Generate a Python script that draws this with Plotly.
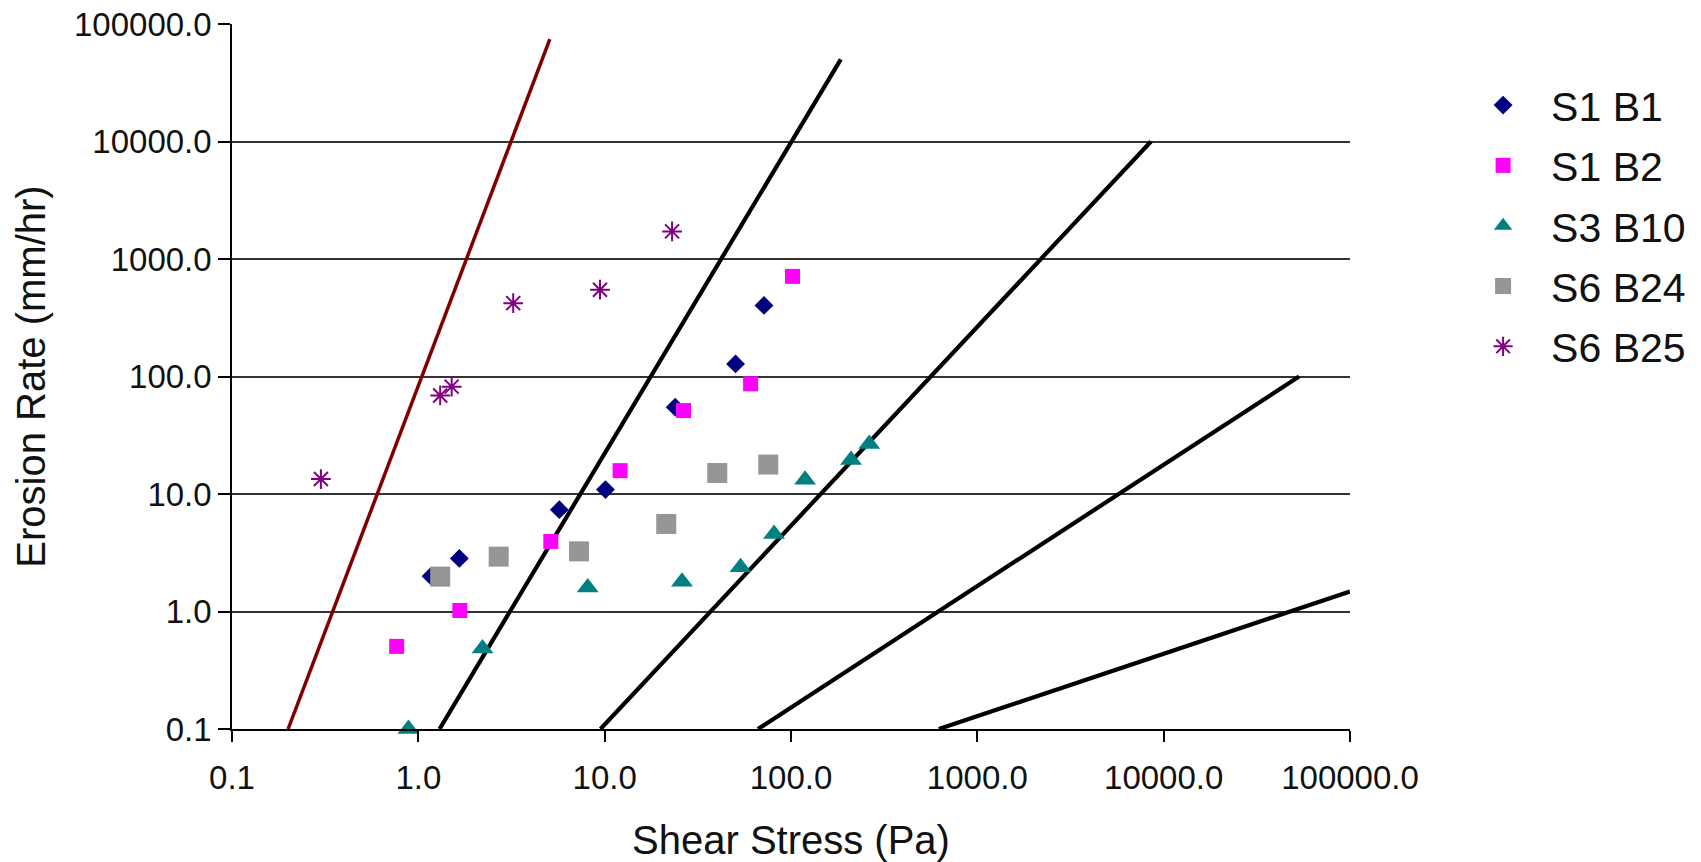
import plotly.graph_objects as go

# ---- data ----
s1b1_x = [1.17, 1.66, 5.71, 10.1, 23.9, 50.4, 71.6]
s1b1_y = [2.0, 2.83, 7.36, 10.9, 54.8, 128, 403]

s1b2_x = [0.765, 1.67, 5.14, 12.1, 26.5, 60.7, 101.9]
s1b2_y = [0.505, 1.02, 3.95, 15.8, 51.3, 86.7, 711]

s3b10_x = [0.885, 2.21, 8.11, 26.0, 53.6, 81.1, 119, 210, 263]
s3b10_y = [0.1, 0.485, 1.60, 1.79, 2.38, 4.57, 13.2, 19.5, 26.7]

s6b24_x = [1.31, 2.70, 7.28, 21.4, 40.2, 75.5]
s6b24_y = [1.98, 2.93, 3.25, 5.56, 15.1, 17.8]

s6b25_x = [0.30, 1.31, 1.51, 3.23, 9.44, 23.0]
s6b25_y = [13.4, 69, 82, 421, 548, 1718]

# boundary lines (end points)
red_x = [0.2, 5.08]
red_y = [0.1, 74300]
black_lines_x = [[1.30, 185], [9.5, 8550], [66.5, 53300], [622, 100000]]
black_lines_y = [[0.1, 50000], [0.1, 10000], [0.1, 100], [0.1, 1.48]]

tick_vals = [0.1, 1, 10, 100, 1000, 10000, 100000]
tick_text = ["0.1", "1.0", "10.0", "100.0", "1000.0", "10000.0", "100000.0"]

FONT = "Liberation Sans, Arial, sans-serif"
TXT = "#111111"

fig = go.Figure()

fig.add_trace(go.Scatter(x=red_x, y=red_y, mode="lines",
                         line=dict(color="#800000", width=3.5),
                         showlegend=False, hoverinfo="skip"))
for bx, by in zip(black_lines_x, black_lines_y):
    fig.add_trace(go.Scatter(x=bx, y=by, mode="lines",
                             line=dict(color="#000000", width=4.2),
                             showlegend=False, hoverinfo="skip"))

series = [
    ("S1 B1", s1b1_x, s1b1_y, dict(symbol="diamond", size=14.5, color="#000080")),
    ("S1 B2", s1b2_x, s1b2_y, dict(symbol="square", size=15, color="#FF00FF")),
    ("S3 B10", s3b10_x, s3b10_y, dict(symbol="triangle-up", size=19, color="#008080")),
    ("S6 B24", s6b24_x, s6b24_y, dict(symbol="square", size=20, color="#969696")),
    ("S6 B25", s6b25_x, s6b25_y, dict(symbol="asterisk-open", size=16.5, color="#800080",
                                      line=dict(color="#800080", width=2))),
]
for i, (name, xs, ys, mk) in enumerate(series):
    if "line" not in mk:
        mk = dict(mk, line=dict(width=0))
    fig.add_trace(go.Scatter(x=xs, y=ys, mode="markers", name=name,
                             marker=mk, cliponaxis=False,
                             legendgroup="g%d" % i))

fig.update_layout(
    width=1701, height=862,
    margin=dict(l=232, r=351, t=24, b=133, autoexpand=False),
    paper_bgcolor="white", plot_bgcolor="white",
    font=dict(family=FONT, color=TXT, size=33),
    showlegend=True,
    legend=dict(x=1.094, y=0.932, xanchor="left", yanchor="top",
                font=dict(size=41, family=FONT, color=TXT),
                traceorder="grouped", tracegroupgap=4,
                itemwidth=86, bgcolor="rgba(0,0,0,0)"),
)

fig.update_xaxes(type="log", range=[-1, 5], automargin=False,
                 tickvals=tick_vals, ticktext=tick_text,
                 showgrid=False, zeroline=False,
                 showline=True, linecolor="#000000", linewidth=1.5,
                 ticks="outside", ticklen=11, tickwidth=1.5, tickcolor="#000000",
                 ticklabelstandoff=8,
                 tickfont=dict(size=33, family=FONT, color=TXT),
                 title=dict(text="Shear Stress (Pa)", standoff=37,
                            font=dict(size=40, family=FONT, color=TXT)))
fig.update_yaxes(type="log", range=[-1, 5], automargin=False,
                 tickvals=tick_vals, ticktext=tick_text,
                 showgrid=True, gridcolor="#333333", gridwidth=1.5,
                 zeroline=False,
                 showline=True, linecolor="#000000", linewidth=1.5,
                 ticks="outside", ticklen=12, tickwidth=1.5, tickcolor="#000000",
                 tickfont=dict(size=33, family=FONT, color=TXT),
                 title=dict(text="Erosion Rate (mm/hr)", standoff=16,
                            font=dict(size=40, family=FONT, color=TXT)))

fig.write_html("out.html", config={"displayModeBar": False},
               post_script="document.body.style.margin='0';document.body.style.padding='0';")
